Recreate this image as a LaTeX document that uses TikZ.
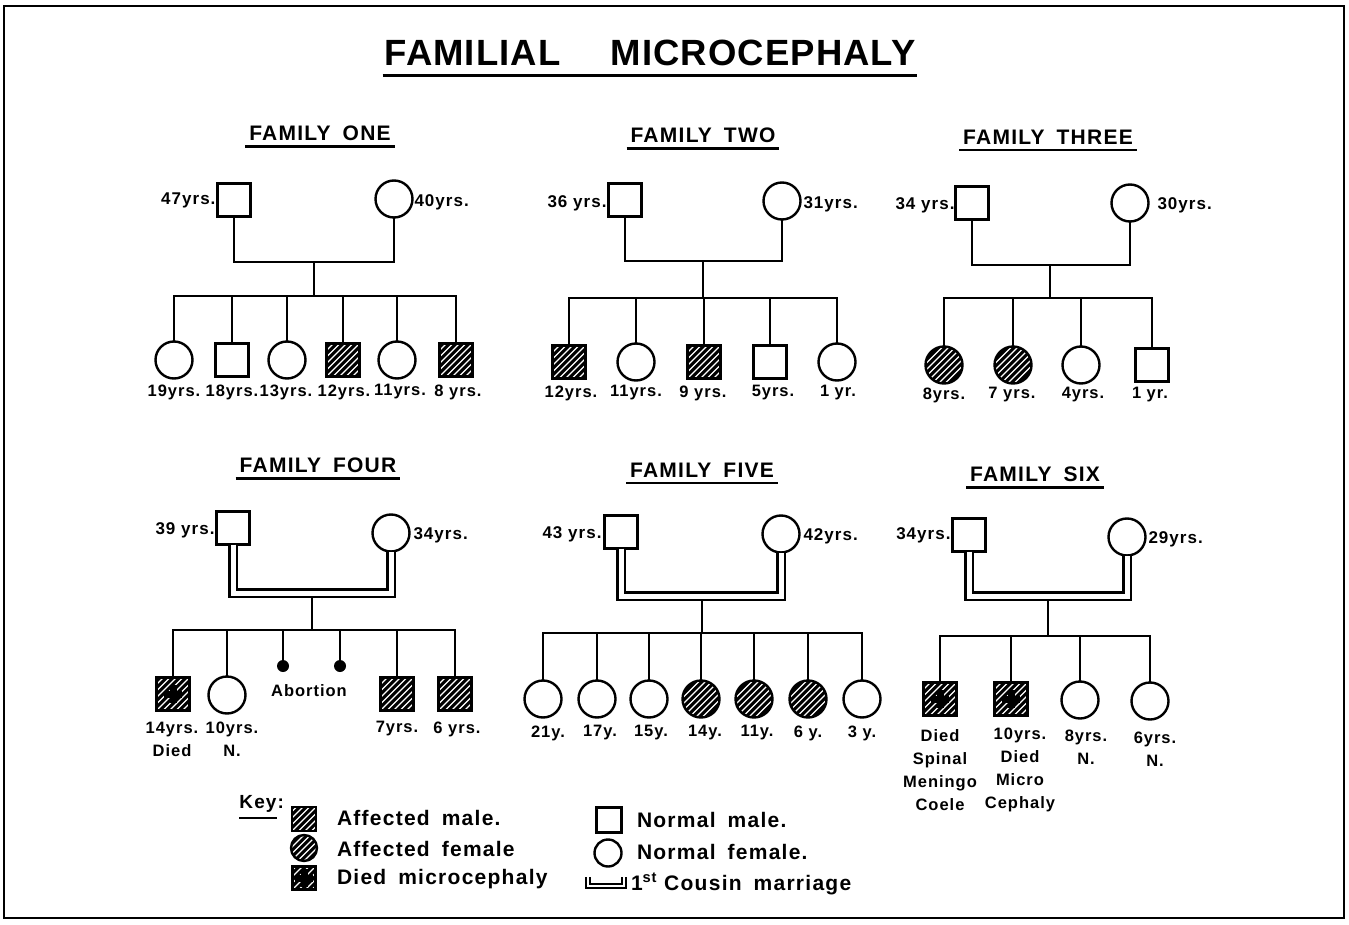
\documentclass[tikz,border=0pt]{standalone}
\usepackage{fontspec}
\setmainfont{Liberation Sans}
\newfontfamily\lettering{Liberation Sans}[LetterSpace=6]
\newfontfamily\titlefont{Liberation Sans}[LetterSpace=3]
\usetikzlibrary{calc}
\newcommand\hatchlines{%
  \foreach \k in {-39,-32.5,...,39}{%
    \draw[white,line width=1.2pt]
      ([xshift=\k pt-30pt,yshift=-30pt]path picture bounding box.center) --
      ([xshift=\k pt+30pt,yshift=30pt]path picture bounding box.center);}}
\newcommand\diedplus{%
  \fill[black] ([xshift=-9pt,yshift=-3.5pt]path picture bounding box.center) rectangle ([xshift=9pt,yshift=3.5pt]path picture bounding box.center);
  \fill[black] ([xshift=-3.5pt,yshift=-9pt]path picture bounding box.center) rectangle ([xshift=3.5pt,yshift=9pt]path picture bounding box.center);}
\tikzset{
  every node/.style={inner sep=0pt, outer sep=0pt},
  ln/.style={line width=2.4pt},
  dbl/.style={line width=2.4pt, double, double distance=5pt},
  ul/.style={line width=2.4pt},
  male/.style={rectangle, draw, line width=2.4pt, minimum size=33pt},
  female/.style={circle, draw, line width=2.4pt, minimum size=37pt},
  hatch/.style={fill=black, path picture={\hatchlines}},
  died/.style={fill=black, path picture={\hatchlines\diedplus}},
  abort/.style={circle, fill=black, minimum size=12pt},
  lab/.style={font=\lettering\bfseries\fontsize{16.5}{23}\selectfont, align=center},
  plab/.style={font=\lettering\bfseries\fontsize{17}{22}\selectfont},
  ftitle/.style={font=\lettering\bfseries\fontsize{21}{24}\selectfont},
  keyt/.style={font=\lettering\bfseries\fontsize{21}{24}\selectfont, anchor=west},
}
\begin{document}
\begin{tikzpicture}[x=1pt,y=-1pt]
\useasboundingbox (0,0) rectangle (1349,925);
\fill[white] (0,0) rectangle (1349,925);
\draw[line width=2.4pt] (4,6) rectangle (1344,918);

% main title
\node[font=\titlefont\bfseries\fontsize{36.5}{40}\selectfont] (T) at (650,53) {FAMILIAL\hspace{50pt}MICROCEPHALY};
\draw[line width=3pt] ([xshift=-2pt,yshift=-10pt]T.south west) -- ([xshift=2pt,yshift=-10pt]T.south east);

% ================= FAMILY ONE =================
\node[ftitle] (F1t) at (320,133) {FAMILY\hspace{12pt}ONE};
\draw[ul] ([xshift=-4pt,yshift=-6pt]F1t.south west) -- ([xshift=4pt,yshift=-6pt]F1t.south east);
\node[male] (F1f) at (234,200) {};
\node[female] (F1m) at (394,199) {};
\node[plab,anchor=east] (F1fl) at ([xshift=-2pt]F1f.west) {47yrs.};
\node[plab,anchor=west] (F1ml) at ([xshift=2pt,yshift=-3pt]F1m.east) {40yrs.};
\coordinate (F1j) at (314,262);
\coordinate (F1s) at (314,296);
\node[female] (F1c1) at (174,360) {};
\node[male] (F1c2) at (232,360) {};
\node[female] (F1c3) at (287,360) {};
\node[male,hatch] (F1c4) at (343,360) {};
\node[female] (F1c5) at (397,360) {};
\node[male,hatch] (F1c6) at (456,360) {};
\draw[ln] (F1f.south) |- (F1j) -| (F1m.south);
\draw[ln] (F1j) -- (F1s);
\draw[ln] (F1c1.north) |- (F1s) -| (F1c6.north);
\foreach \c in {2,3,4,5} \draw[ln] (F1c\c.north) -- (F1c\c.north |- F1s);
\node[lab] (F1l1) at (174,392) {19yrs.};
\node[lab] (F1l2) at (232,392) {18yrs.};
\node[lab] (F1l3) at (286,392) {13yrs.};
\node[lab] (F1l4) at (344,392) {12yrs.};
\node[lab] (F1l5) at (400,392) {11yrs.};
\node[lab] (F1l6) at (458,392) {8 yrs.};

% ================= FAMILY TWO =================
\node[ftitle] (F2t) at (703,135) {FAMILY\hspace{12pt}TWO};
\draw[ul] ([xshift=-4pt,yshift=-6pt]F2t.south west) -- ([xshift=4pt,yshift=-6pt]F2t.south east);
\node[male] (F2f) at (625,200) {};
\node[female] (F2m) at (782,201) {};
\node[plab,anchor=east] (F2fl) at ([xshift=-2pt,yshift=-3pt]F2f.west) {36 yrs.};
\node[plab,anchor=west] (F2ml) at ([xshift=3pt,yshift=-3pt]F2m.east) {31yrs.};
\coordinate (F2j) at (703,261);
\coordinate (F2s) at (703,298);
\node[male,hatch] (F2c1) at (569,362) {};
\node[female] (F2c2) at (636,362) {};
\node[male,hatch] (F2c3) at (704,362) {};
\node[male] (F2c4) at (770,362) {};
\node[female] (F2c5) at (837,362) {};
\draw[ln] (F2f.south) |- (F2j) -| (F2m.south);
\draw[ln] (F2j) -- (F2s);
\draw[ln] (F2c1.north) |- (F2s) -| (F2c5.north);
\foreach \c in {2,3,4} \draw[ln] (F2c\c.north) -- (F2c\c.north |- F2s);
\node[lab] (F2l1) at (571,393) {12yrs.};
\node[lab] (F2l2) at (636,393) {11yrs.};
\node[lab] (F2l3) at (703,393) {9 yrs.};
\node[lab] (F2l4) at (773,393) {5yrs.};
\node[lab] (F2l5) at (838,393) {1 yr.};

% ================= FAMILY THREE =================
\node[ftitle] (F3t) at (1048,137) {FAMILY\hspace{12pt}THREE};
\draw[ul] ([xshift=-4pt,yshift=-6pt]F3t.south west) -- ([xshift=4pt,yshift=-6pt]F3t.south east);
\node[male] (F3f) at (972,203) {};
\node[female] (F3m) at (1130,203) {};
\node[plab,anchor=east] (F3fl) at ([xshift=-1pt,yshift=-2pt]F3f.west) {34 yrs.};
\node[plab,anchor=west] (F3ml) at ([xshift=9pt,yshift=-2pt]F3m.east) {30yrs.};
\coordinate (F3j) at (1050,265);
\coordinate (F3s) at (1050,298);
\node[female,hatch] (F3c1) at (944,365) {};
\node[female,hatch] (F3c2) at (1013,365) {};
\node[female] (F3c3) at (1081,365) {};
\node[male] (F3c4) at (1152,365) {};
\draw[ln] (F3f.south) |- (F3j) -| (F3m.south);
\draw[ln] (F3j) -- (F3s);
\draw[ln] (F3c1.north) |- (F3s) -| (F3c4.north);
\foreach \c in {2,3} \draw[ln] (F3c\c.north) -- (F3c\c.north |- F3s);
\node[lab] (F3l1) at (944,395) {8yrs.};
\node[lab] (F3l2) at (1012,395) {7 yrs.};
\node[lab] (F3l3) at (1083,395) {4yrs.};
\node[lab] (F3l4) at (1150,395) {1 yr.};

% ================= FAMILY FOUR =================
\node[ftitle] (F4t) at (318,465) {FAMILY\hspace{12pt}FOUR};
\draw[ul] ([xshift=-4pt,yshift=-6pt]F4t.south west) -- ([xshift=4pt,yshift=-6pt]F4t.south east);
\node[male] (F4f) at (233,528) {};
\node[female] (F4m) at (391,533) {};
\node[plab,anchor=east] (F4fl) at ([xshift=-2pt,yshift=-2pt]F4f.west) {39 yrs.};
\node[plab,anchor=west] (F4ml) at ([xshift=4pt,yshift=-2pt]F4m.east) {34yrs.};
\coordinate (F4j) at (312,593);
\coordinate (F4d) at (312,597);
\coordinate (F4s) at (312,630);
\node[male,died] (F4c1) at (173,694) {};
\node[female] (F4c2) at (227,695) {};
\node[abort] (F4a1) at (283,666) {};
\node[abort] (F4a2) at (340,666) {};
\node[male,hatch] (F4c5) at (397,694) {};
\node[male,hatch] (F4c6) at (455,694) {};
\draw[dbl] (F4f.south) |- (F4j) -| (F4m.south);
\draw[ln] (F4d) -- (F4s);
\draw[ln] (F4c1.north) |- (F4s) -| (F4c6.north);
\foreach \c in {c2,a1,a2,c5} \draw[ln] (F4\c.north) -- (F4\c.north |- F4s);
\node[lab] (F4ab) at (309,691) {Abortion};
\node[lab] (F4l1) at (172,739) {14yrs.\\Died};
\node[lab] (F4l2) at (232,739) {10yrs.\\N.};
\node[lab] (F4l5) at (397,729) {7yrs.};
\node[lab] (F4l6) at (457,729) {6 yrs.};

% ================= FAMILY FIVE =================
\node[ftitle] (F5t) at (702,470) {FAMILY\hspace{12pt}FIVE};
\draw[ul] ([xshift=-4pt,yshift=-6pt]F5t.south west) -- ([xshift=4pt,yshift=-6pt]F5t.south east);
\node[male] (F5f) at (621,532) {};
\node[female] (F5m) at (781,534) {};
\node[plab,anchor=east] (F5fl) at ([xshift=-3pt,yshift=-2pt]F5f.west) {43 yrs.};
\node[plab,anchor=west] (F5ml) at ([xshift=4pt,yshift=-2pt]F5m.east) {42yrs.};
\coordinate (F5j) at (702,596);
\coordinate (F5d) at (702,600);
\coordinate (F5s) at (702,633);
\node[female] (F5c1) at (543,699) {};
\node[female] (F5c2) at (597,699) {};
\node[female] (F5c3) at (649,699) {};
\node[female,hatch] (F5c4) at (701,699) {};
\node[female,hatch] (F5c5) at (754,699) {};
\node[female,hatch] (F5c6) at (808,699) {};
\node[female] (F5c7) at (862,699) {};
\draw[dbl] (F5f.south) |- (F5j) -| (F5m.south);
\draw[ln] (F5d) -- (F5s);
\draw[ln] (F5c1.north) |- (F5s) -| (F5c7.north);
\foreach \c in {2,3,4,5,6} \draw[ln] (F5c\c.north) -- (F5c\c.north |- F5s);
\node[lab] (F5l1) at (548,733) {21y.};
\node[lab] (F5l2) at (600,733) {17y.};
\node[lab] (F5l3) at (651,733) {15y.};
\node[lab] (F5l4) at (705,733) {14y.};
\node[lab] (F5l5) at (757,733) {11y.};
\node[lab] (F5l6) at (808,733) {6 y.};
\node[lab] (F5l7) at (862,733) {3 y.};

% ================= FAMILY SIX =================
\node[ftitle] (F6t) at (1035,474) {FAMILY\hspace{12pt}SIX};
\draw[ul] ([xshift=-4pt,yshift=-6pt]F6t.south west) -- ([xshift=4pt,yshift=-6pt]F6t.south east);
\node[male] (F6f) at (969,535) {};
\node[female] (F6m) at (1127,537) {};
\node[plab,anchor=east] (F6fl) at ([xshift=-2pt]F6f.west) {34yrs.};
\node[plab,anchor=west] (F6ml) at ([xshift=3pt,yshift=-2pt]F6m.east) {29yrs.};
\coordinate (F6j) at (1048,596);
\coordinate (F6d) at (1048,600);
\coordinate (F6s) at (1048,636);
\node[male,died] (F6c1) at (940,699) {};
\node[male,died] (F6c2) at (1011,699) {};
\node[female] (F6c3) at (1080,700) {};
\node[female] (F6c4) at (1150,701) {};
\draw[dbl] (F6f.south) |- (F6j) -| (F6m.south);
\draw[ln] (F6d) -- (F6s);
\draw[ln] (F6c1.north) |- (F6s) -| (F6c4.north);
\foreach \c in {2,3} \draw[ln] (F6c\c.north) -- (F6c\c.north |- F6s);
\node[lab] (F6l1) at (940,770) {Died\\Spinal\\Meningo\\Coele};
\node[lab] (F6l2) at (1020,770) {10yrs.\\Died\\Micro\\Cephaly};
\node[lab] (F6l3) at (1086,747) {8yrs.\\N.};
\node[lab] (F6l4) at (1155,749) {6yrs.\\N.};

% ================= KEY =================
\node[lab,font=\lettering\bfseries\fontsize{19}{22}\selectfont] (K) at (258,804) {Key};
\node[lab,font=\lettering\bfseries\fontsize{19}{22}\selectfont,anchor=west] (Kc) at ([xshift=1pt]K.east) {:};
\draw[line width=2pt] ([yshift=-5pt]K.south west) -- ([yshift=-5pt]K.south east);
\node[male,hatch,minimum size=24pt] (K1) at (304,819) {};
\node[female,hatch,minimum size=26pt] (K2) at (304,848) {};
\node[male,died,minimum size=23pt] (K3) at (304,878) {};
\node[keyt] (K1t) at (337,818) {Affected\hspace{12pt}male.};
\node[keyt] (K2t) at (337,849) {Affected\hspace{12pt}female};
\node[keyt] (K3t) at (337,879) {Died\hspace{12pt}microcephaly};
\node[male,minimum size=25pt] (K4) at (609,820) {};
\node[female,minimum size=27pt] (K5) at (608,853) {};
\coordinate (K6a) at (588,877);
\coordinate (K6b) at (624,877);
\coordinate (K6m) at (606,886);
\draw[line width=1.6pt, double, double distance=2.5pt] (K6a) |- (K6m) -| (K6b);
\node[keyt] (K4t) at (637,820) {Normal\hspace{12pt}male.};
\node[keyt] (K5t) at (637,852) {Normal\hspace{12pt}female.};
\node[keyt] (K6t) at (631,884) {1\textsuperscript{st} Cousin\hspace{12pt}marriage};
\end{tikzpicture}
\end{document}
